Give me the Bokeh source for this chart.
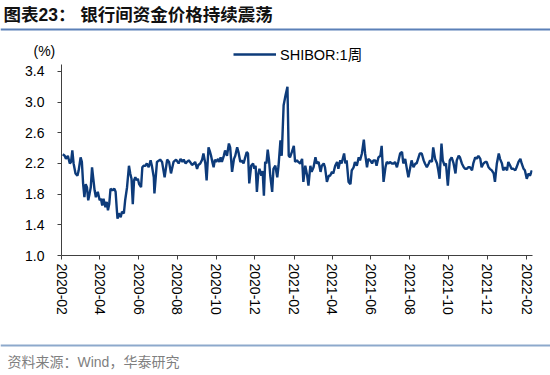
import pandas as pd
from bokeh.plotting import figure
from bokeh.layouts import column, row
from bokeh.models import (Range1d, FixedTicker, DatetimeTickFormatter, NumeralTickFormatter,
                          Label, Legend, LegendItem)
from bokeh.embed import file_html
from bokeh.resources import INLINE

# ---------------- data ----------------
start_date = "2020-02-01"
end_date = "2022-02-10"

day_offsets = [
    2, 5, 7, 10, 13, 15, 17, 19, 22, 25, 27, 30, 32, 34, 36, 38, 40, 42, 44, 46,
    48, 50, 52, 54, 57, 60, 62, 64, 66, 69, 71, 73, 75, 77, 80, 83, 85, 87, 88, 90,
    93, 95, 98, 100, 103, 106, 108, 110, 112, 114, 116, 118, 120, 122, 125, 127, 129, 132, 134, 137,
    140, 142, 145, 146,
    150, 155, 158, 162, 166, 169, 172, 176, 180, 184, 187, 190, 192, 195, 197, 200, 202, 205, 208, 210,
    213, 215, 218, 221, 223, 226, 228, 231, 233, 235, 237, 239, 241, 243, 246, 248, 250, 252, 255, 257,
    260, 263, 265, 268, 271, 273, 276, 278, 281, 283, 286, 288, 291, 293, 295,
    298, 301, 303, 305, 307, 309, 311, 314, 316, 318, 320, 322, 324, 326, 328, 331, 333, 336, 339, 341,
    344, 346, 349, 352, 355, 357, 359, 362, 365, 367, 370, 372, 375, 378, 380, 383, 386, 388, 391, 393,
    396, 399, 401, 404, 407, 409, 412, 414, 417, 420, 422, 425, 427, 430, 433, 435, 438, 440, 444,
    446, 448, 451, 454, 456, 459, 461, 464, 467, 469, 472, 475, 477, 480, 482, 485, 488, 490, 493, 495,
    498, 501, 503, 506, 509, 511, 514, 516, 519, 522, 524, 527, 529, 532, 535, 537, 540, 543, 545, 548,
    550, 553, 556, 558, 561, 563, 566, 569, 571, 574, 577, 579, 582, 584, 587, 590, 592, 594,
    597, 599, 602, 604, 607, 610, 613, 616, 619, 621, 624, 626, 629, 632, 634, 637, 639, 642, 645, 647,
    650, 652, 655, 658, 660, 663, 666, 668, 671, 673, 676, 679, 681, 684, 687, 689, 692, 694, 697, 700,
    702, 705, 707, 710, 713, 715, 718, 721, 723, 726, 728, 731, 734, 736, 739,
]

shibor_1w = [
    2.32, 2.30, 2.26, 2.30, 2.20, 2.22, 2.37, 2.20, 2.07, 2.04, 2.11, 2.28, 2.22, 1.93, 1.76, 1.93, 1.89, 1.72, 1.80, 1.89,
    2.15, 2.00, 1.85, 1.76, 1.83, 1.72, 1.74, 1.65, 1.74, 1.63, 1.70, 1.59, 1.67, 1.87, 1.85, 1.87, 1.83, 1.59, 1.48, 1.55,
    1.50, 1.57, 1.55, 1.72, 1.89, 2.17, 2.07, 2.00, 1.67, 1.98, 2.02, 1.98, 2.00, 1.93, 1.89, 2.15, 2.17, 2.17, 2.20, 2.15,
    2.24, 2.17, 2.02, 1.81,
    2.22, 2.25, 2.22, 2.02, 2.25, 2.22, 2.07, 2.22, 2.25, 2.20, 2.26, 2.22, 2.25, 2.20, 2.22, 2.24, 2.22, 2.18, 2.20, 2.22,
    2.13, 2.18, 2.20, 2.25, 2.33, 2.20, 1.98, 2.41, 2.36, 2.30, 2.22, 2.15, 2.25, 2.22, 2.26, 2.22, 2.28, 2.22, 2.30, 2.37,
    2.30, 2.46, 2.41, 2.09, 2.26, 2.30, 2.41, 2.35, 2.22, 2.24, 2.20, 2.26, 2.35, 2.33, 1.94,
    2.17, 2.20, 2.13, 2.17, 1.83, 2.05, 2.13, 2.04, 2.10, 1.78, 2.22, 2.20, 2.38, 2.25, 2.04, 1.83, 2.13, 2.17, 2.02, 2.17,
    2.50, 2.30, 2.96, 3.09, 3.20, 2.30, 2.28, 2.35, 2.43, 2.22, 2.24, 2.22, 2.20, 2.26, 1.96, 2.17, 2.04, 1.91, 2.17, 2.09,
    2.15, 2.28, 2.20, 2.22, 2.09, 2.17, 2.20, 2.15, 1.96, 2.04, 2.04, 2.09, 2.07, 2.17, 2.22, 2.13, 2.24, 2.20, 2.33,
    2.20, 2.24, 1.96, 1.93, 2.11, 2.15, 2.22, 2.17, 2.28, 2.24, 2.33, 2.51, 2.33, 2.15, 2.26, 2.24, 2.20, 2.24, 2.24, 2.17,
    2.28, 2.30, 2.43, 1.96, 2.15, 2.22, 2.20, 2.22, 2.20, 2.20, 2.22, 2.15, 2.22, 2.33, 2.35, 2.20, 2.26, 2.11, 2.02, 2.15,
    2.24, 2.15, 2.20, 2.20, 2.28, 2.33, 2.33, 2.24, 2.20, 2.15, 2.20, 2.24, 2.22, 2.41, 2.26, 2.20, 2.11, 2.00,
    2.46, 2.24, 2.17, 2.20, 1.91, 2.24, 2.28, 2.20, 2.07, 2.24, 2.30, 2.28, 2.20, 2.15, 2.13, 2.13, 2.15, 2.15, 2.11, 2.20,
    2.28, 2.26, 2.30, 2.26, 2.15, 2.20, 2.22, 2.22, 2.15, 2.13, 2.11, 2.07, 1.96, 2.20, 2.33, 2.26, 2.20, 2.11, 2.15, 2.11,
    2.22, 2.17, 2.13, 2.13, 2.11, 2.15, 2.22, 2.26, 2.20, 2.13, 2.11, 2.00, 2.07, 2.04, 2.11,
]

x_tick_labels = ["2020-02", "2020-04", "2020-06", "2020-08", "2020-10", "2020-12",
                 "2021-02", "2021-04", "2021-06", "2021-08", "2021-10", "2021-12", "2022-02"]
y_ticks = [1.0, 1.4, 1.8, 2.2, 2.6, 3.0, 3.4]

series_name = "SHIBOR:1周"
title_text = "图表23： 银行间资金价格持续震荡"
unit_text = "(%)"
source_text = "资料来源：Wind，华泰研究"

# ---------------- styling ----------------
W = 550
HEAD_H, MAIN_H, FOOT_H = 64, 271, 40
LINE_COLOR = "#0d3b7a"
LINE_W = 2.4
LATIN = "'Liberation Sans', 'Noto Sans CJK SC'"


def no_frame_align(f):
    if "frame_align" in f.properties():
        f.frame_align = False


def blank_fig(h):
    # pixel-like ranges (y measured upward from the bottom edge)
    f = figure(width=W, height=h, x_range=Range1d(0, W), y_range=Range1d(0, h),
               x_axis_location=None, y_axis_location=None, output_backend="svg",
               toolbar_location=None, min_border=0,
               min_border_left=0, min_border_right=0, min_border_top=0, min_border_bottom=0)
    f.outline_line_color = None
    f.grid.visible = False
    no_frame_align(f)
    return f


# ---------------- header: title, rule, unit, legend ----------------
head = blank_fig(HEAD_H)
head.add_layout(Label(x=3, y=HEAD_H - 14, text=title_text, text_font=LATIN, text_font_size="17.5px",
                      text_font_style="bold", text_color="#111111",
                      text_baseline="middle", text_align="left"))
head.hspan(y=[HEAD_H - 28.5], line_color="#5b80b8", line_width=2)
head.add_layout(Label(x=33, y=HEAD_H - 50, text=unit_text, text_font="Liberation Sans", text_font_size="14px",
                      text_color="#000000", text_baseline="middle", text_align="left"))
proxy = head.line(x=[float("nan"), float("nan")], y=[float("nan"), float("nan")],
                  line_color=LINE_COLOR, line_width=LINE_W)
legend = Legend(items=[LegendItem(label=series_name, renderers=[proxy])],
                location=(233, 0), orientation="horizontal",
                padding=0, margin=0, spacing=0, glyph_width=43, glyph_height=14,
                label_height=14, label_standoff=4,
                label_text_font=LATIN, label_text_font_size="14.5px", label_text_color="#000000",
                border_line_color=None, background_fill_alpha=0)
head.add_layout(legend)

# ---------------- main chart ----------------
dates = pd.Timestamp(start_date) + pd.to_timedelta(day_offsets, unit="D")

p = figure(width=W, height=MAIN_H, x_axis_type="datetime", output_backend="svg", toolbar_location=None,
           x_range=Range1d(pd.Timestamp(start_date), pd.Timestamp(end_date)),
           y_range=Range1d(1.0, 3.49),
           min_border_left=61, min_border_right=18, min_border_top=0, min_border_bottom=80)
p.outline_line_color = None
p.xgrid.visible = False
p.ygrid.visible = False
no_frame_align(p)

p.line(dates, shibor_1w, line_color=LINE_COLOR, line_width=LINE_W)

tick_ms = [pd.Timestamp(t + "-01").value // 10**6 for t in x_tick_labels]
p.xaxis.ticker = FixedTicker(ticks=tick_ms)
p.xaxis.formatter = DatetimeTickFormatter(months="%Y-%m", days="%Y-%m", years="%Y-%m",
                                          hours="%Y-%m", minutes="%Y-%m")
p.xaxis.major_label_orientation = "vertical"
p.xaxis.major_label_standoff = 4

p.yaxis.ticker = FixedTicker(ticks=y_ticks)
p.yaxis.formatter = NumeralTickFormatter(format="0.0")
p.yaxis.major_label_standoff = 13

for ax in (p.xaxis[0], p.yaxis[0]):
    ax.axis_line_color = "#404040"
    ax.axis_line_width = 1
    ax.major_tick_line_color = "#404040"
    ax.major_tick_out = 4
    ax.major_tick_in = 0
    ax.minor_tick_line_color = None
    ax.major_label_text_font = "Liberation Sans"
    ax.major_label_text_font_size = "14px"
    ax.major_label_text_color = "#000000"

# ---------------- footer ----------------
foot = blank_fig(FOOT_H)
foot.hspan(y=[FOOT_H - 10], line_color="#8da9cc", line_width=2)
foot.add_layout(Label(x=7, y=FOOT_H - 26, text=source_text, text_font=LATIN, text_font_size="14px",
                      text_color="#7f7f7f", text_baseline="middle", text_align="left"))

layout = column(row(head), p, row(foot), spacing=0)
open("out.html", "w").write(file_html(layout, INLINE))
